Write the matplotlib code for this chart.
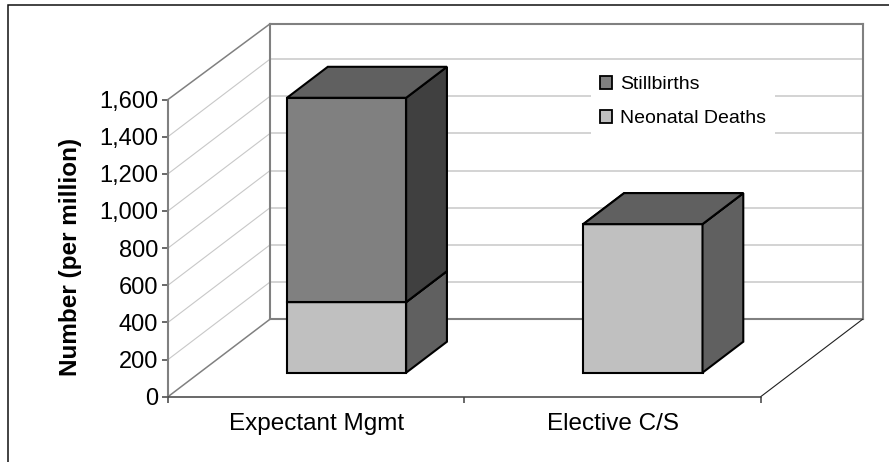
"""Stacked pseudo-3D columns of stillbirths and neonatal deaths per million."""

import matplotlib
matplotlib.use('Agg')
import matplotlib.pyplot as plt
from matplotlib.patches import Patch, Rectangle

plt.rcParams['font.family'] = ['Liberation Sans', 'DejaVu Sans']

categories = ['Expectant Mgmt', 'Elective C/S']
neonatal_deaths = [380, 800]
stillbirths = [1100, 0]
value_ticks = [0, 200, 400, 600, 800, 1000, 1200, 1400, 1600]

# ------------------------------- 3D look ---------------------------------

DEPTH_X = 0.344  # shift of the back wall, in category units
DEPTH_Y = 417    # shift of the back wall, in value units
WALL_TOP = 1590  # the back wall stops a bit short of the last tick

BAR_WIDTH = 0.402
BAR_FRONT = 0.31  # depth of the front face of a column
BAR_BACK = 0.71   # depth of its back face
BAR_NUDGE = -0.004

GRAY_FRAME = '#808080'
GRAY_GRID = '#c8c8c8'


def shift(x, v, d):
    """Move a point of the front plane back to depth d (0 to 1)."""
    return x + d * DEPTH_X, v + d * DEPTH_Y


def face(ax, corners, color, z):
    xs, ys = zip(*[shift(*c) for c in corners])
    ax.fill(xs, ys, facecolor=color, edgecolor='black', linewidth=1.5,
            joinstyle='miter', clip_on=False, zorder=z)


def box(ax, center, v0, v1, front, side, top, z):
    """Draw one column segment: front face, right side and top."""
    left = center - BAR_WIDTH / 2
    right = center + BAR_WIDTH / 2
    if v1 > v0:
        face(ax, [(left, v0, BAR_FRONT), (right, v0, BAR_FRONT),
                  (right, v1, BAR_FRONT), (left, v1, BAR_FRONT)], front, z)
        face(ax, [(right, v0, BAR_FRONT), (right, v0, BAR_BACK),
                  (right, v1, BAR_BACK), (right, v1, BAR_FRONT)], side, z)
    face(ax, [(left, v1, BAR_FRONT), (right, v1, BAR_FRONT),
              (right, v1, BAR_BACK), (left, v1, BAR_BACK)], top, z)


def line(ax, start, end, **kwargs):
    (x0, y0), (x1, y1) = shift(*start), shift(*end)
    ax.plot([x0, x1], [y0, y1], clip_on=False, solid_capstyle='projecting', **kwargs)


def walls(ax):
    """Back wall, left wall and floor with their gridlines."""
    for v in value_ticks[1:-1]:
        line(ax, (0, v, 0), (0, v, 1), color=GRAY_GRID, linewidth=0.8, zorder=1)
        line(ax, (0, v, 1), (2, v, 1), color=GRAY_GRID, linewidth=1.1, zorder=1)

    frame = dict(color=GRAY_FRAME, linewidth=1.5, zorder=2)
    line(ax, (0, 0, 1), (0, WALL_TOP, 1), **frame)
    line(ax, (0, WALL_TOP, 1), (2, WALL_TOP, 1), **frame)
    line(ax, (2, 0, 1), (2, WALL_TOP, 1), **frame)
    line(ax, (0, 0, 1), (2, 0, 1), **frame)
    line(ax, (0, 1600, 0), (0, WALL_TOP, 1), color=GRAY_FRAME, linewidth=1.1, zorder=2)
    line(ax, (0, 0, 0), (0, 0, 1), color=GRAY_FRAME, linewidth=1.1, zorder=2)
    line(ax, (2, 0, 0), (2, 0, 1), color='#202020', linewidth=0.8, zorder=2)


# ================================= Figure ===================================

def main():
    fig = plt.figure(figsize=(8.89, 4.62), dpi=100, facecolor='white')

    # outer frame, only its top and left edges fall inside the canvas
    fig.add_artist(Rectangle((8 / 889, -0.05), 1.1, (462 - 5) / 462 + 0.05,
                             transform=fig.transFigure, facecolor='none',
                             edgecolor='#101010', linewidth=1.1))

    ax = fig.add_axes([168 / 889, (462 - 396.7) / 462, 592.7 / 889, 297.2 / 462])
    ax.set_xlim(0, 2)
    ax.set_ylim(0, 1600)
    ax.patch.set_visible(False)

    walls(ax)

    for i in range(len(categories)):
        center = i + 0.5 + BAR_NUDGE
        low = neonatal_deaths[i]
        high = low + stillbirths[i]
        box(ax, center, 0, low, '#c0c0c0', '#606060', '#606060', 5)
        box(ax, center, low, high, '#808080', '#404040', '#606060', 6)

    for side in ('top', 'right'):
        ax.spines[side].set_visible(False)
    ax.spines['left'].set_color(GRAY_FRAME)
    ax.spines['left'].set_linewidth(1.5)
    ax.spines['bottom'].set_color('#404040')
    ax.spines['bottom'].set_linewidth(1.1)

    ax.set_yticks(value_ticks)
    ax.set_yticklabels([f'{v:,}' for v in value_ticks], fontsize=17)
    ax.tick_params(axis='y', length=4, width=1.1, color='#404040', pad=3)

    ax.set_xticks([0, 1, 2])
    ax.set_xticklabels([])
    ax.tick_params(axis='x', which='major', length=4, width=1.1, color='#404040')
    ax.set_xticks([0.5, 1.5], minor=True)
    ax.set_xticklabels(categories, minor=True, fontsize=17.5)
    ax.tick_params(axis='x', which='minor', length=0, pad=12)

    ax.set_ylabel('Number (per million)', fontsize=17.5, fontweight='bold')
    ax.yaxis.set_label_coords(-0.145, 0.47)

    handles = [Patch(facecolor='#808080', edgecolor='black', linewidth=1.3),
               Patch(facecolor='#c0c0c0', edgecolor='black', linewidth=1.3)]
    legend = ax.legend(handles, ['Stillbirths', 'Neonatal Deaths'],
                       loc='upper left', bbox_to_anchor=((591 - 168) / 592.7, (396.7 - 67) / 297.2),
                       fontsize=14, frameon=True, fancybox=False, framealpha=1,
                       edgecolor='none', facecolor='white', handlelength=0.65,
                       handleheight=0.65, handletextpad=0.38, labelspacing=0.85,
                       borderpad=0.45, borderaxespad=0)
    legend.set_zorder(3)

    fig.savefig('out.png', dpi=100)


if __name__ == '__main__':
    main()
